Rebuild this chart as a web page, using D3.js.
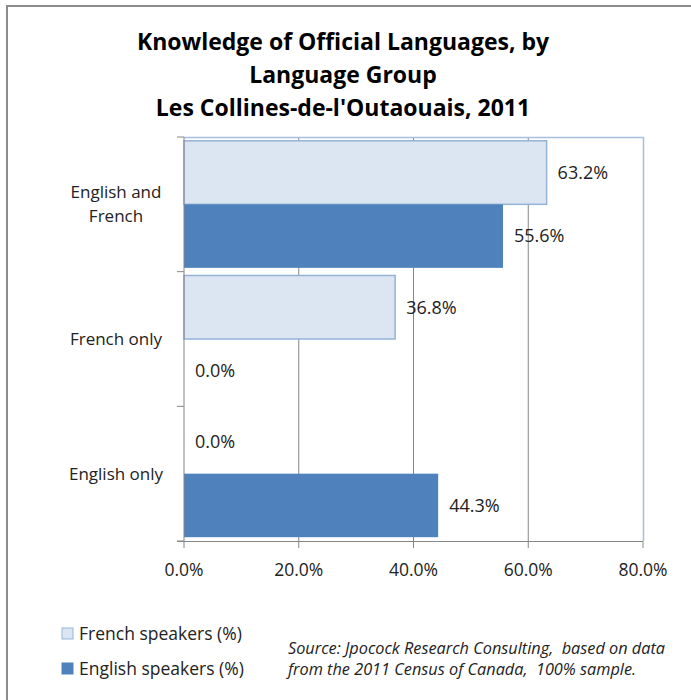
<!DOCTYPE html>
<html>
<head>
<meta charset="utf-8">
<script src="https://cdn.jsdelivr.net/npm/d3@7"></script>
<style>
  body { margin: 0; background: #fff; }
  svg { font-family: "Open Sans", "Noto Sans", sans-serif; }
</style>
</head>
<body>
<script>
// data
const categories = ["English and French", "French only", "English only"];
const categoryLines = [["English and", "French"], ["French only"], ["English only"]];
const seriesNames = ["French speakers (%)", "English speakers (%)"];
const frenchSpeakers = [63.2, 36.8, 0.0];
const englishSpeakers = [55.6, 0.0, 44.3];
const xTicks = [0, 20, 40, 60, 80];
const titleLines = ["Knowledge of Official Languages, by", "Language Group", "Les Collines-de-l'Outaouais, 2011"];
const sourceLines = ["Source: Jpocock Research Consulting,  based on data", "from the 2011 Census of Canada,  100% sample."];

const width = 691, height = 700;
const margin = { top: 137, left: 184, right: 48, bottom: 159 };

const svg = d3.select("body").append("svg")
  .attr("width", width)
  .attr("height", height);

// outer frame (only left + top visible)
svg.append("path")
  .attr("d", `M7,${height} L7,6 L${width},6`)
  .attr("fill", "none")
  .attr("stroke", "#8c8c8c")
  .attr("stroke-width", 2);

// title
svg.append("g").selectAll("text")
  .data(titleLines)
  .enter().append("text")
  .attr("x", 343)
  .attr("y", (d, i) => 50 + i * 33)
  .attr("text-anchor", "middle")
  .style("font-weight", "bold")
  .style("font-size", "23px")
  .style("fill", "#000")
  .text(d => d);

const x = d3.scaleLinear().domain([0, 80]).range([margin.left, width - margin.right]);
const y = d3.scaleBand().domain(categories).range([margin.top, height - margin.bottom]);
const sub = d3.scaleBand().domain(seriesNames).range([0, y.bandwidth()]).paddingOuter(0.06);

const plotTop = margin.top, plotBottom = height - margin.bottom;

// gridlines
svg.append("g").selectAll("line")
  .data(xTicks.slice(1, -1))
  .enter().append("line")
  .attr("x1", d => x(d)).attr("x2", d => x(d))
  .attr("y1", plotTop).attr("y2", plotBottom)
  .attr("stroke", "#868686")
  .attr("stroke-width", 1);

// plot border top + right
svg.append("path")
  .attr("d", `M${x(0)},${plotTop + 0.5} L${x(80) + 0.5},${plotTop + 0.5} L${x(80) + 0.5},${plotBottom}`)
  .attr("fill", "none")
  .attr("stroke", "#a6bfdd")
  .attr("stroke-width", 1.5);

const rows = categories.map((c, i) => ({
  cat: c,
  values: [frenchSpeakers[i], englishSpeakers[i]]
}));

const fills = ["#dce6f2", "#4f81bd"];
const strokes = ["#95b3d7", "none"];

const groups = svg.append("g").selectAll("g")
  .data(rows)
  .enter().append("g")
  .attr("transform", d => `translate(0,${y(d.cat)})`);

groups.selectAll("rect")
  .data(d => d.values.map((v, j) => ({ v: v, s: seriesNames[j], j: j })))
  .enter().append("rect")
  .attr("x", x(0))
  .attr("y", d => sub(d.s))
  .attr("width", d => x(d.v) - x(0))
  .attr("height", sub.bandwidth())
  .attr("fill", d => fills[d.j])
  .attr("stroke", d => strokes[d.j])
  .attr("stroke-width", 1.5)
  .style("display", d => d.v > 0 ? null : "none");

groups.selectAll("text.val")
  .data(d => d.values.map((v, j) => ({ v: v, s: seriesNames[j] })))
  .enter().append("text")
  .attr("class", "val")
  .attr("x", d => x(d.v) + 11)
  .attr("y", d => sub(d.s) + sub.bandwidth() / 2)
  .attr("dy", "0.35em")
  .style("font-size", "18px")
  .style("fill", "#222")
  .text(d => d.v.toFixed(1) + "%");

// y axis
svg.append("line")
  .attr("x1", x(0)).attr("x2", x(0))
  .attr("y1", plotTop).attr("y2", plotBottom)
  .attr("stroke", "#868686");

svg.append("g").selectAll("line")
  .data(categories.map(c => y(c)).concat([plotBottom]))
  .enter().append("line")
  .attr("x1", x(0) - 7).attr("x2", x(0))
  .attr("y1", d => d).attr("y2", d => d)
  .attr("stroke", "#868686");

const yLabels = svg.append("g").selectAll("text")
  .data(categories)
  .enter().append("text")
  .attr("text-anchor", "middle")
  .attr("x", 116)
  .attr("y", d => y(d) + y.bandwidth() / 2)
  .style("font-size", "17px")
  .style("fill", "#222");

yLabels.selectAll("tspan")
  .data((d, i) => categoryLines[i].map((l, k, arr) => ({ l: l, k: k, n: arr.length })))
  .enter().append("tspan")
  .attr("x", 116)
  .attr("dy", d => d.k === 0 ? ((0.35 - (d.n - 1) * 0.7) + "em") : "1.4em")
  .text(d => d.l);

// x axis
svg.append("line")
  .attr("x1", x(0) - 7).attr("x2", x(80))
  .attr("y1", plotBottom + 0.5).attr("y2", plotBottom + 0.5)
  .attr("stroke", "#868686");

svg.append("g").selectAll("line")
  .data(xTicks)
  .enter().append("line")
  .attr("x1", d => x(d)).attr("x2", d => x(d))
  .attr("y1", plotBottom).attr("y2", plotBottom + 7)
  .attr("stroke", "#868686");

svg.append("g").selectAll("text")
  .data(xTicks)
  .enter().append("text")
  .attr("x", d => x(d))
  .attr("y", plotBottom + 35)
  .attr("text-anchor", "middle")
  .style("font-size", "17.5px")
  .style("fill", "#222")
  .text(d => d.toFixed(1) + "%");

// legend
const legend = svg.append("g").selectAll("g")
  .data(seriesNames)
  .enter().append("g")
  .attr("transform", (d, i) => `translate(62,${628 + i * 35})`);

legend.append("rect")
  .attr("width", 11).attr("height", 11)
  .attr("fill", (d, i) => fills[i])
  .attr("stroke", (d, i) => i === 0 ? "#95b3d7" : "#4f81bd")
  .attr("stroke-width", 1);

legend.append("text")
  .attr("x", 17)
  .attr("y", 5.5)
  .attr("dy", "0.35em")
  .style("font-size", "17.5px")
  .style("fill", "#222")
  .text(d => d);

// source note
svg.append("g").selectAll("text")
  .data(sourceLines)
  .enter().append("text")
  .attr("x", 288)
  .attr("y", (d, i) => 654 + i * 21)
  .attr("xml:space", "preserve")
  .style("white-space", "pre")
  .style("font-size", "16.3px")
  .style("font-style", "italic")
  .style("fill", "#222")
  .text(d => d);
</script>
</body>
</html>
